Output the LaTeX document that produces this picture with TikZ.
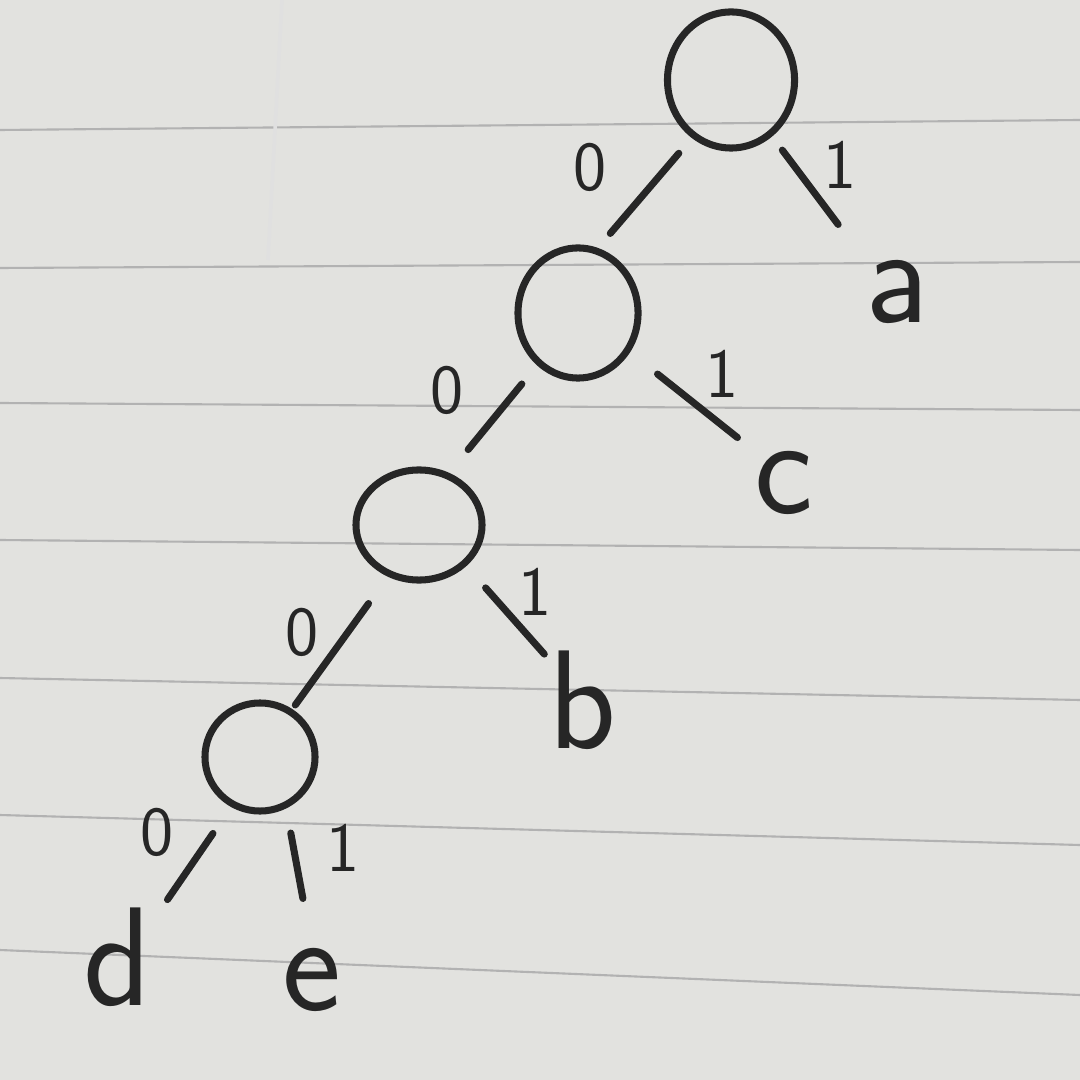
\documentclass[tikz,border=0pt]{standalone}
\usepackage{fontspec}
\usetikzlibrary{shapes.geometric}
\definecolor{ink}{RGB}{38,38,38}
\definecolor{paper}{RGB}{226,226,223}
\begin{document}
\begin{tikzpicture}[x=0.01cm,y=-0.01cm,
  inner/.style={draw=ink,ellipse,line width=2pt,inner sep=0pt},
  leaf/.style={inner sep=0pt,text=ink,font=\sffamily\fontsize{40}{42}\selectfont},
  bit/.style={inner sep=0pt,text=ink,font=\sffamily\fontsize{20}{22}\selectfont},
  edge/.style={draw=ink,line width=2pt,line cap=round},
  rule/.style={draw=black!30,line width=0.6pt}]
\fill[paper] (0,0) rectangle (1080,1080);
\useasboundingbox (0,0) rectangle (1080,1080);
% ruled paper
\draw[rule] (0,130) -- (1080,120);
\draw[rule] (0,268) -- (1080,262);
\draw[rule] (0,403) -- (1080,410);
\draw[rule] (0,540) -- (1080,550);
\draw[rule] (0,678) -- (1080,700);
\draw[rule] (0,815) -- (1080,845);
\draw[rule] (0,950) -- (1080,995);
\draw[draw=black!12,line width=1pt] (282,0) -- (268,260);
% tree nodes
\node[inner,minimum width=1.27cm,minimum height=1.36cm] (n1) at (731,80) {};
\node[inner,minimum width=1.2cm,minimum height=1.3cm] (n2) at (578,313) {};
\node[inner,minimum width=1.26cm,minimum height=1.1cm] (n3) at (419,525) {};
\node[inner,minimum width=1.1cm,minimum height=1.08cm] (n4) at (260,757) {};
\node[leaf] (a) at (897,292) {a};
\node[leaf] (c) at (784,483) {c};
\node[leaf] (b) at (583,700) {b};
\node[leaf] (d) at (118,957) {d};
\node[leaf] (e) at (312,980) {e};
% connectors
\draw[edge,shorten <=0.2cm,shorten >=0.19cm] (n1.236) -- (n2.73);
\draw[edge,shorten <=0.17cm,shorten >=0.44cm] (n1.306) -- (a.north west);
\draw[edge,shorten <=0.24cm,shorten >=0.3cm] (n2.232) -- (n3.60);
\draw[edge,shorten <=0.35cm,shorten >=0.21cm] (n2.323) -- (c.north west);
\draw[edge,shorten <=0.33cm,shorten >=0.05cm] (n3.239) -- (n4.56);
\draw[edge,shorten <=0.29cm,shorten >=0.06cm] (n3.319) -- (b.130);
\draw[edge,shorten <=0.32cm,shorten >=0.26cm] (n4.240) -- (d.46);
\draw[edge,shorten <=0.25cm,shorten >=0.5cm] (n4.297) -- (e.north);
% bit labels
\node[bit] (l1) at (590,167) {0};
\node[bit] (l2) at (840,165) {1};
\node[bit] (l3) at (447,390) {0};
\node[bit] (l4) at (722,374) {1};
\node[bit] (l5) at (302,632) {0};
\node[bit] (l6) at (535,592) {1};
\node[bit] (l7) at (157,832) {0};
\node[bit] (l8) at (343,848) {1};
\end{tikzpicture}
\end{document}
